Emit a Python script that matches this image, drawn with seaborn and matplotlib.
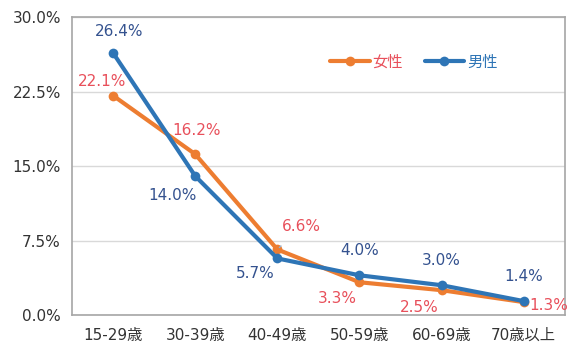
import pandas as pd
import matplotlib.pyplot as plt
import seaborn as sns

# data
age_groups = ['15-29歳', '30-39歳', '40-49歳', '50-59歳', '60-69歳', '70歳以上']
female = [22.1, 16.2, 6.6, 3.3, 2.5, 1.3]
male = [26.4, 14.0, 5.7, 4.0, 3.0, 1.4]

# label offsets in pixels (dx, dy) relative to each point
female_offsets = [(-11, 14), (1, 24), (24, 23), (-22, -16), (-22, -17), (25, -3)]
male_offsets = [(6, 21), (-23, -19), (-22, -15), (0, 25), (0, 25), (0, 25)]

orange = '#ED7D31'
blue = '#2E75B6'
female_text = '#E8505B'
male_text = '#34528F'

df = pd.DataFrame({
    'age': age_groups * 2,
    'rate': female + male,
    'sex': ['女性'] * len(age_groups) + ['男性'] * len(age_groups),
})

sns.set_style('white')
plt.rcParams['font.family'] = ['DejaVu Sans', 'Noto Sans CJK JP']

fig = plt.figure(figsize=(5.74, 3.43), dpi=100)
ax = fig.add_axes([0.1254, 0.0816, 0.8586, 0.8684])

sns.lineplot(data=df, x='age', y='rate', hue='sex', hue_order=['女性', '男性'],
             palette=[orange, blue], marker='o', markersize=7, linewidth=3,
             markeredgewidth=0, sort=False, ax=ax)

ax.set_xlim(-0.5, len(age_groups) - 0.5)
ax.set_ylim(0, 30)
ax.set_yticks([0, 7.5, 15, 22.5, 30])
ax.set_yticklabels(['0.0%', '7.5%', '15.0%', '22.5%', '30.0%'])
ax.set_xlabel('')
ax.set_ylabel('')
ax.tick_params(axis='y', length=0, labelsize=11, colors='#333333', pad=8)
ax.tick_params(axis='x', length=0, labelsize=11, colors='#333333', pad=9)
ax.grid(axis='y', color='#d9d9d9', linewidth=1)
for s in ax.spines.values():
    s.set_color('#a6a6a6')
    s.set_linewidth(1.2)

# data labels
for i, (v, off) in enumerate(zip(female, female_offsets)):
    if i == 2:
        ax.annotate(f'{v:.1f}%', xy=(i, v), xytext=off, textcoords='offset pixels',
                    ha='center', va='center', fontsize=11, color=female_text,
                    arrowprops=dict(arrowstyle='-', color='#8fb4d9', lw=0.9,
                                    shrinkA=9, shrinkB=2))
    else:
        ax.annotate(f'{v:.1f}%', xy=(i, v), xytext=off, textcoords='offset pixels',
                    ha='center', va='center', fontsize=11, color=female_text)
for i, (v, off) in enumerate(zip(male, male_offsets)):
    ax.annotate(f'{v:.1f}%', xy=(i, v), xytext=off, textcoords='offset pixels',
                ha='center', va='center', fontsize=11, color=male_text)

leg = ax.legend(loc='upper right', bbox_to_anchor=(0.892, 0.92), ncol=2, frameon=False,
                handlelength=2.6, handletextpad=0.2, columnspacing=1.4, fontsize=11)
for t, c in zip(leg.get_texts(), [female_text, '#2E75B6']):
    t.set_color(c)

plt.savefig('out.png', dpi=100)
